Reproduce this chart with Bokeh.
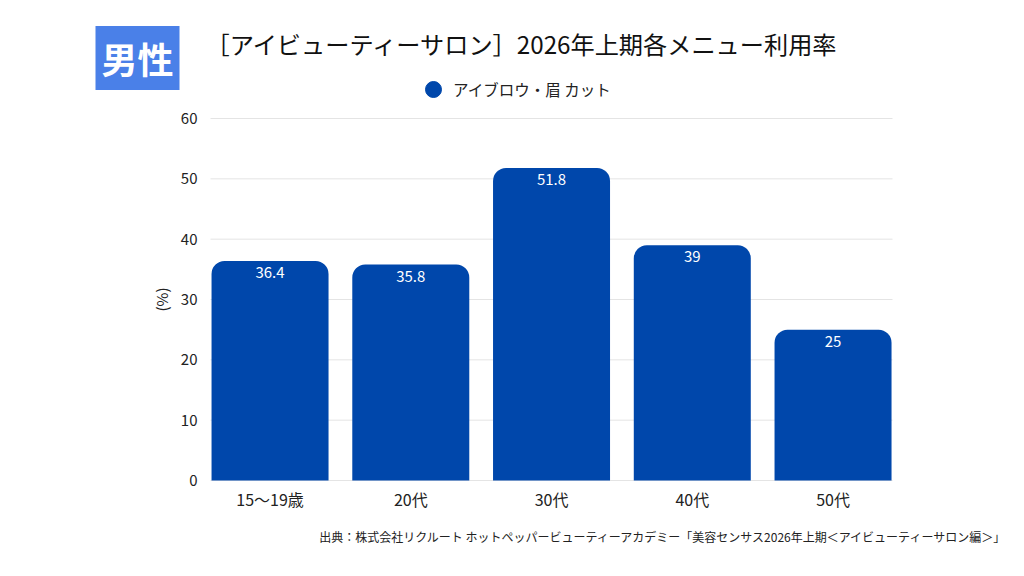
from bokeh.plotting import figure
from bokeh.models import (Label, Legend, LegendItem, ColumnDataSource, LabelSet,
                          FixedTicker, Range1d)
from bokeh.embed import file_html
from bokeh.resources import INLINE
from bokeh.core.properties import value

categories = ["15〜19歳", "20代", "30代", "40代", "50代"]
values = [36.4, 35.8, 51.8, 39, 25]
value_labels = ["36.4", "35.8", "51.8", "39", "25"]
y_ticks = [0, 10, 20, 30, 40, 50, 60]
series_name = "アイブロウ・眉 カット"
title_text = "［アイビューティーサロン］2026年上期各メニュー利用率"
badge_text = "男性"
source_text = "出典：株式会社リクルート ホットペッパービューティーアカデミー「美容センサス2026年上期＜アイビューティーサロン編＞」"

FONT = "Noto Sans CJK JP"
BAR = "#0047AB"
TXT = "#222222"
W, H = 1008, 560

# plot-area geometry (pixels on the canvas)
PA_L, PA_R, PA_T, PA_B = 210, 892, 118, 480
PITCH = 140.75                 # pixels per category
X0 = 0.077                     # category coordinate at the plot-area left edge
X1 = X0 + (PA_R - PA_L) / PITCH
PY = (PA_B - PA_T) / 60.0      # pixels per percent

x_pos = [i + 0.5 for i in range(len(categories))]

p = figure(width=W, height=H, output_backend="svg", toolbar_location=None,
           x_range=Range1d(X0 - PA_L / PITCH, X0 + (W - PA_L) / PITCH),
           y_range=Range1d(-(H - PA_B) / PY, 60 + PA_T / PY),
           min_border=0)
p.outline_line_color = None
p.background_fill_color = "white"
p.border_fill_color = "white"
p.grid.visible = False

# horizontal gridlines at the y ticks, limited to the plot area
p.segment(x0=[X0] * len(y_ticks), x1=[X1] * len(y_ticks), y0=y_ticks, y1=y_ticks,
          line_color="#e4e4e4", line_width=1)

src = ColumnDataSource(dict(x=x_pos, val=values, lab=value_labels))
p.vbar(x="x", top="val", width=117 / PITCH, source=src, fill_color=BAR,
       line_color=None, border_radius=(13, 13, 0, 0))
p.add_layout(LabelSet(x="x", y="val", text="lab", source=src, text_color="white",
                      text_font=value(FONT), text_font_size="15px",
                      text_align="center", text_baseline="top", y_offset=-6))

# axes fixed inside the frame
xa, ya = p.xaxis[0], p.yaxis[0]
xa.fixed_location = 0
xa.bounds = (X0, X1)
xa.ticker = FixedTicker(ticks=x_pos)
xa.major_label_overrides = {x: c for x, c in zip(x_pos, categories)}
ya.fixed_location = X0
ya.bounds = (0, 60)
ya.ticker = FixedTicker(ticks=y_ticks)
for ax in (xa, ya):
    ax.axis_line_color = None
    ax.major_tick_line_color = None
    ax.minor_tick_line_color = None
    ax.major_label_text_font = FONT
    ax.major_label_text_color = TXT
xa.major_label_text_font_size = "16px"
ya.major_label_text_font_size = "15px"
xa.major_label_standoff = 0
ya.major_label_standoff = 7
ya.axis_label = "(%)"
ya.axis_label_text_font = FONT
ya.axis_label_text_font_size = "15px"
ya.axis_label_text_font_style = "normal"
ya.axis_label_text_color = TXT
ya.axis_label_standoff = 6

# badge
p.add_layout(Label(x=95, y=H - 57.5, x_units="screen", y_units="screen",
                   text=badge_text, text_font=FONT, text_font_size="36px",
                   text_font_style="bold", text_color="white",
                   background_fill_color="#4A80E8", padding=6,
                   text_baseline="middle", text_align="left"))
# title
p.add_layout(Label(x=205, y=H - 43, x_units="screen", y_units="screen",
                   text=title_text, text_font=FONT, text_font_size="24.2px",
                   text_color="#111111", text_baseline="middle", text_align="left"))
# legend
dummy_src = ColumnDataSource(dict(x=[float("nan")], y=[float("nan")]))
dummy = p.scatter(x="x", y="y", source=dummy_src, marker="circle", size=16,
                  fill_color=BAR, line_color=BAR)
leg = Legend(items=[LegendItem(label=series_name, renderers=[dummy])],
             location=(413, H - 89 - 20), orientation="horizontal",
             label_text_font=FONT, label_text_font_size="15.5px",
             label_text_color=TXT, border_line_color=None,
             background_fill_alpha=0, glyph_width=40, glyph_height=40,
             label_standoff=-11, padding=0, margin=0, label_height=40)
p.add_layout(leg, "center")
# source
p.add_layout(Label(x=1008, y=H - 536, x_units="screen", y_units="screen",
                   text=source_text, text_font=FONT, text_font_size="12px",
                   text_color=TXT, text_baseline="middle", text_align="right"))

open("out.html", "w").write(file_html(p, INLINE))
